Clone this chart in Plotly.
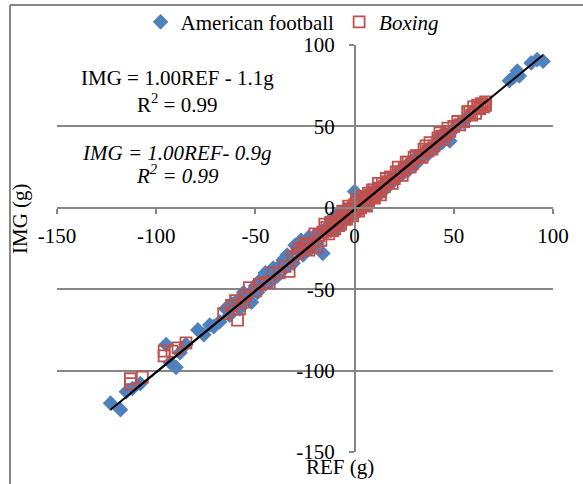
import plotly.graph_objects as go

# American football: reference mass (REF) vs image-derived mass (IMG), grams
ref_football = [-123, -118, -115, -112, -108, -95, -93, -90, -88, -85,
                -79, -76, -73, -71, -68, -65, -63, -62, -60, -58,
                -57, -56, -55, -53, -52, -50, -49, -48, -47, -45,
                -45, -44, -42, -41, -40, -39, -38, -36, -35, -34,
                -33, -31, -30, -29, -28, -27, -26, -24, -23, -22,
                -21, -20, -19, -17, -16, -14, -12, -12, -10, -9,
                -8, -7, -6, -5, -4, -3, -2, -1, 0, 0,
                1, 2, 3, 4, 5, 6, 7, 8, 9, 10,
                11, 12, 13, 14, 15, 16, 17, 18, 19, 20,
                22, 23, 24, 26, 27, 28, 30, 31, 32, 34,
                35, 36, 37, 38, 40, 41, 42, 44, 46, 48,
                49, 51, 53, 55, 57, 78, 80, 82, 83, 89,
                92, 95]
img_football = [-120, -124, -113, -111, -108, -84, -95, -98, -89, -84,
                -75, -78, -72, -73, -70, -62, -66, -59, -58, -62,
                -55, -52, -57, -53, -58, -48, -52, -45, -44, -47,
                -40, -42, -45, -37, -38, -42, -36, -32, -37, -29,
                -31, -34, -23, -24, -27, -20, -29, -22, -18, -25,
                -20, -17, -22, -15, -28, -12, -14, -7, -8, -12,
                -3, -5, -9, -1, -2, -6, 0, -3, 10, -1,
                -2, 3, 0, 5, 1, 3, 8, 4, 6, 11,
                7, 9, 12, 14, 11, 13, 15, 18, 16, 17,
                22, 20, 21, 26, 23, 25, 30, 27, 29, 32,
                33, 35, 33, 36, 38, 37, 43, 40, 45, 41,
                47, 50, 52, 53, 56, 78, 80, 84, 81, 89,
                91, 90]

# Boxing: reference mass (REF) vs image-derived mass (IMG), grams
ref_boxing = [-113, -113, -107, -96, -96, -92, -89, -85, -66, -62,
              -60, -59, -58, -56, -55, -53, -50, -48, -45, -43,
              -41, -38, -35, -33, -31, -29, -28, -26, -25, -24,
              -23, -21, -20, -19, -18, -17, -16, -15, -14, -13,
              -12, -11, -11, -10, -9, -8, -8, -7, -6, -6,
              -5, -4, -4, -3, -3, -2, -2, -1, -1, 0,
              0, 1, 1, 1, 2, 2, 3, 3, 4, 4,
              5, 5, 6, 6, 7, 7, 8, 9, 9, 10,
              10, 11, 12, 12, 13, 13, 14, 15, 16, 17,
              18, 19, 20, 21, 22, 23, 24, 25, 26, 27,
              28, 29, 30, 31, 33, 34, 35, 36, 37, 38,
              39, 40, 42, 43, 44, 45, 46, 47, 48, 50,
              52, 53, 55, 57, 58, 59, 60, 61, 62, 63,
              64, 65, 66, 66]
img_boxing = [-105, -108, -104, -91, -88, -88, -86, -83, -65, -60,
              -57, -69, -62, -58, -54, -49, -51, -47, -46, -46,
              -40, -40, -36, -39, -30, -28, -25, -26, -22, -23,
              -26, -24, -16, -24, -17, -20, -15, -10, -12, -16,
              -9, -10, -14, -13, -8, -6, -11, -10, -5, -2,
              -7, -3, -7, -5, 1, -1, -4, 0, -5, -2,
              2, -1, 3, 5, 1, -2, 0, 4, 2, 7,
              5, 2, 6, 1, 4, 9, 8, 7, 11, 11,
              6, 9, 12, 15, 10, 8, 15, 13, 18, 16,
              19, 15, 18, 22, 25, 22, 20, 24, 28, 28,
              25, 27, 31, 32, 32, 31, 36, 38, 35, 40,
              36, 38, 43, 46, 44, 42, 45, 49, 47, 50,
              53, 51, 53, 59, 59, 57, 62, 58, 63, 61,
              64, 62, 63, 65]

# Linear fits as reported on the chart (IMG = slope * REF + intercept)
fit_football = (1.00, -1.1)
fit_boxing = (1.00, -0.9)

axis_ticks = [-150, -100, -50, 0, 50, 100]
axis_tick_text = ["-150", "-100", "-50", "0", "50", "100"]
axis_range = [-150, 100]

BLUE = "#4F81BD"
RED = "#C0504D"
GRAY = "#868686"
FONT = "Liberation Serif"

fig = go.Figure()

fig.add_trace(go.Scatter(
    x=ref_football, y=img_football, mode="markers", name="American football",
    marker=dict(symbol="diamond", size=12, color=BLUE),
))
fig.add_trace(go.Scatter(
    x=ref_boxing, y=img_boxing, mode="markers", name="<i>Boxing</i>",
    marker=dict(symbol="square-open", size=11, color=RED, line=dict(width=1.8, color=RED)),
))

# Trend lines spanning each series' REF range
for (slope, icpt), xs in ((fit_football, ref_football), (fit_boxing, ref_boxing)):
    x0, x1 = min(xs), max(xs)
    fig.add_trace(go.Scatter(
        x=[x0, x1], y=[slope * x0 + icpt, slope * x1 + icpt], mode="lines",
        line=dict(color="black", width=2), showlegend=False, hoverinfo="skip",
    ))

fig.update_layout(
    width=583, height=484,
    margin=dict(l=57, r=30, t=45, b=32, autoexpand=False),
    plot_bgcolor="white", paper_bgcolor="white",
    font=dict(family=FONT, size=21, color="black"),
    showlegend=True,
    legend=dict(
        orientation="h", x=0.475, y=1.056, xanchor="center", yanchor="middle",
        font=dict(family=FONT, size=21, color="black"),
        bgcolor="rgba(0,0,0,0)", itemwidth=30,
    ),
    xaxis=dict(
        range=axis_range, tickvals=axis_ticks, ticktext=axis_tick_text,
        anchor="free", position=0.6,
        showline=True, linecolor=GRAY, linewidth=1.5,
        ticks="outside", ticklen=5, tickcolor=GRAY, tickwidth=1.5,
        showgrid=False, zeroline=False, ticklabelstandoff=4,
    ),
    yaxis=dict(
        range=axis_range, tickvals=axis_ticks, ticktext=axis_tick_text,
        anchor="free", position=0.6,
        showline=True, linecolor=GRAY, linewidth=1.5,
        ticks="outside", ticklen=5, tickcolor=GRAY, tickwidth=1.5,
        showgrid=True, gridcolor=GRAY, gridwidth=1.5,
        zeroline=False, ticklabelstandoff=10,
    ),
)

# Axis titles
fig.add_annotation(text="IMG (g)", x=-0.0746, y=0.575, xref="paper", yref="paper",
                   xanchor="center", yanchor="middle",
                   showarrow=False, textangle=-90, font=dict(size=21))
fig.add_annotation(text="REF (g)", x=0.5706, y=-0.037, xref="paper", yref="paper",
                   xanchor="center", yanchor="middle",
                   showarrow=False, font=dict(size=21))

# Regression equations
eq_lines = [
    ("IMG = 1.00REF - 1.1g", 0.919),
    ("R<sup>2</sup> = 0.99", 0.857),
    ("<i>IMG = 1.00REF- 0.9g</i>", 0.735),
    ("<i>R<sup>2</sup> = 0.99</i>", 0.681),
]
for txt, yy in eq_lines:
    fig.add_annotation(text=txt, x=0.242, y=yy, xref="paper", yref="paper",
                       xanchor="center", yanchor="middle",
                       showarrow=False, font=dict(size=21))

# Chart frame (left and top edges)
fig.add_shape(type="line", xref="paper", yref="paper", x0=-0.0948, x1=-0.0948,
              y0=-0.1, y1=1.0983, line=dict(color=GRAY, width=2))
fig.add_shape(type="line", xref="paper", yref="paper", x0=-0.0948, x1=1.1,
              y0=1.0983, y1=1.0983, line=dict(color=GRAY, width=2))

fig.write_html("out.html")
